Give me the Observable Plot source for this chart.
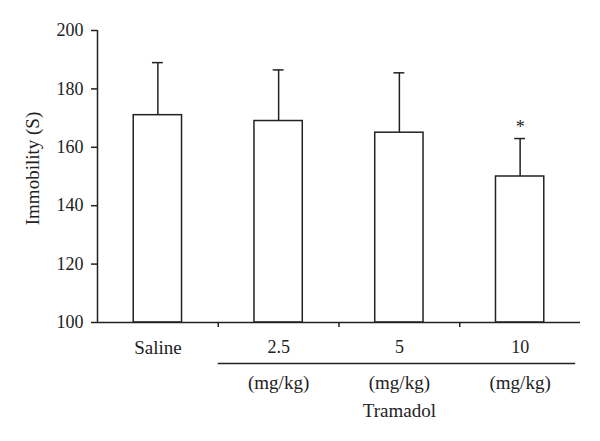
<!DOCTYPE html>
<html>
<head>
<meta charset="utf-8">
<script src="https://cdn.jsdelivr.net/npm/d3@7"></script>
<script src="https://cdn.jsdelivr.net/npm/@observablehq/plot@0.6"></script>
<style>
  html, body { margin: 0; padding: 0; background: #fff; overflow: hidden; }
  #chart svg { display: block; font-family: "Liberation Serif", "DejaVu Serif", serif; }
</style>
</head>
<body>
<div id="chart"></div>
<script>
const categories = ["Saline", "2.5", "5", "10"];
const means = [171, 169, 165, 150];
const errors = [18, 17.5, 20.5, 13];
const marks = ["", "", "", "*"];
const yTicks = [100, 120, 140, 160, 180, 200];
const unitLabel = "(mg/kg)";
const groupLabel = "Tramadol";
const yLabel = "Immobility (S)";

const ink = "#222";
const fs = 18;     // digits
const fsw = 19;    // words
const sw = 1.5;
const half = 0.2;      // half bar width (index units)
const capHalf = 0.045; // half cap width (index units)

const data = categories.map((c, i) => ({
  cat: c, i, mean: means[i], err: errors[i], top: means[i] + errors[i], mark: marks[i]
}));
const drugs = data.filter(d => d.i > 0);
const boundaries = d3.range(0.5, categories.length - 1, 1);

const chart = Plot.plot({
  width: 600,
  height: 441,
  marginLeft: 97,
  marginRight: 20,
  marginTop: 30,
  marginBottom: 119,
  style: { fontFamily: "Liberation Serif, DejaVu Serif, serif", fontSize: fs + "px", color: ink, background: "#fff" },
  x: { domain: [-0.5, categories.length - 0.5], axis: null },
  y: { domain: [100, 200], axis: null },
  marks: [
    // y axis
    Plot.axisY({ ticks: yTicks, tickSize: 6, tickPadding: 8, fontSize: fs, label: null, stroke: ink, strokeWidth: sw }),
    Plot.ruleX([-0.5], { stroke: ink, strokeWidth: sw }),
    // y label
    Plot.text([yLabel], { frameAnchor: "left", textAnchor: "middle", rotate: -90, dx: -65, dy: -8, fontSize: fsw, fill: ink }),
    // bars
    Plot.ruleX(data, { x: "i", y1: "mean", y2: "top", stroke: ink, strokeWidth: sw }),
    Plot.ruleY(data, { y: "top", x1: d => d.i - capHalf, x2: d => d.i + capHalf, stroke: ink, strokeWidth: sw }),
    Plot.rectY(data, { x1: d => d.i - half, x2: d => d.i + half, y1: 100, y2: "mean", fill: "white", stroke: ink, strokeWidth: sw }),
    Plot.text(data, { x: "i", y: "top", text: "mark", dy: -11, fontSize: 18, fill: ink, lineAnchor: "middle" }),
    // x baseline and boundary ticks
    Plot.ruleY([100], { stroke: ink, strokeWidth: sw }),
    Plot.axisX({ ticks: boundaries, tickSize: 5, tickFormat: () => "", stroke: ink, strokeWidth: sw, label: null }),
    // category labels
    Plot.text(data, { x: "i", text: "cat", frameAnchor: "bottom", dy: 25, fontSize: d => d.i === 0 ? fsw : fs, fill: ink, lineAnchor: "middle" }),
    // bracket under drug doses
    Plot.ruleY([100], { x1: 0.5, x2: categories.length - 0.54, dy: 41, stroke: ink, strokeWidth: sw }),
    Plot.text(drugs, { x: "i", text: () => unitLabel, frameAnchor: "bottom", dy: 60, fontSize: fsw, fill: ink, lineAnchor: "middle" }),
    Plot.text([groupLabel], { x: d3.mean(drugs, d => d.i), frameAnchor: "bottom", dy: 88, fontSize: fsw, fill: ink, lineAnchor: "middle" })
  ]
});
document.getElementById("chart").appendChild(chart);
</script>
</body>
</html>
